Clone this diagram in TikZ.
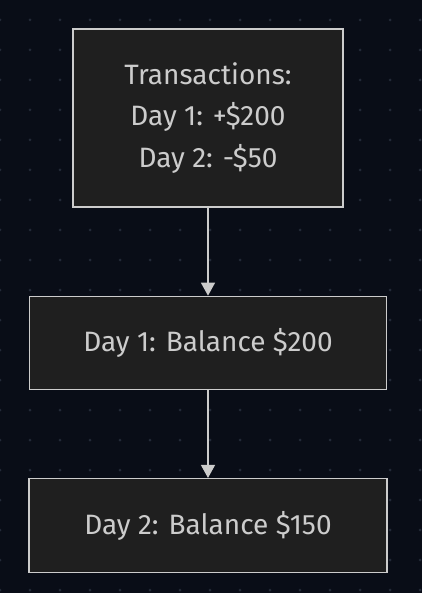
\documentclass[tikz,border=0pt]{standalone}
\usepackage{fontspec}
\setmainfont{Fira Sans}
\usetikzlibrary{arrows.meta}
\usetikzlibrary{positioning}

\definecolor{bgcol}{HTML}{090D17}
\definecolor{dotcol}{HTML}{232A38}
\definecolor{boxfill}{HTML}{1F1F1F}
\definecolor{boxline}{HTML}{CCCCCC}
\definecolor{txtcol}{HTML}{CCCCCC}

\begin{document}
\begin{tikzpicture}[x=1pt,y=-1pt]
    \tikzset{
      node distance=88pt,
      every node/.style={font=\fontsize{28}{41.7}\selectfont, text=txtcol},
      box/.style={draw=boxline, fill=boxfill, line width=1.3pt, inner sep=0pt, align=center},
      flow/.style={draw=boxline, line width=1.3pt, -{Triangle[width=14pt,length=13pt]}},
    }
    % background and dot grid
    \fill[bgcol] (0,0) rectangle (422,593);
    \useasboundingbox (0,0) rectangle (422,593);
    \foreach \gx in {0,30,...,420}
      \foreach \gy in {20,50,...,590}
        \fill[dotcol] (\gx,\gy) circle (1.5pt);

    \node[box, minimum width=270pt, minimum height=178pt] (txns) at (208,118)
      {Transactions:\\Day 1: +\$200\\Day 2: -\$50};
    \node[box, minimum width=357pt, minimum height=93pt, below=of txns] (bal1)
      {Day 1: Balance \$200};
    \node[box, minimum width=358pt, minimum height=94pt, below=of bal1] (bal2)
      {Day 2: Balance \$150};

    \draw[flow] (txns) -- (bal1);
    \draw[flow] (bal1) -- (bal2);
\end{tikzpicture}
\end{document}
